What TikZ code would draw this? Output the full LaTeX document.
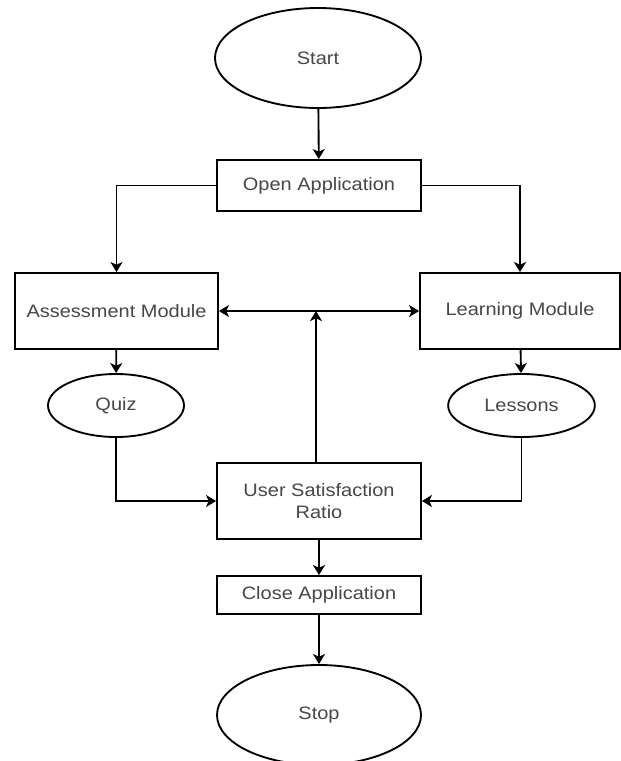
\documentclass[tikz,border=0pt]{standalone}
\usepackage{fontspec}
\setmainfont{Liberation Sans}[FakeStretch=1.11]
\usepackage{tikz}
\usetikzlibrary{arrows.meta,shapes.geometric,calc}

\tikzset{
  box/.style={draw, rectangle, line width=1.4pt, text=black!72, align=center,
    inner sep=0pt, font=\fontsize{13.5pt}{17pt}\selectfont},
  oval/.style={box, ellipse},
  flow/.style={line width=1.4pt, -{Stealth[width=9pt,length=7.5pt,inset=2pt]}}
}

\begin{document}
\begin{tikzpicture}[x=0.75pt,y=-0.75pt]
\fill[white] (0,0) rectangle (621,761);
\useasboundingbox (0,0) rectangle (621,761);
\node[oval, minimum width=154.5pt, minimum height=75pt] (start) at (318,58) {Start};
\node[box, minimum width=153pt, minimum height=38.25pt] (open) at (319,185.5) {Open Application};
\node[box, minimum width=152.25pt, minimum height=57pt] (assess) at (116.5,311) {Assessment Module};
\node[box, minimum width=150pt, minimum height=57pt] (learn) at (520,311) {Learning Module};
\node[oval, minimum width=102pt, minimum height=47.25pt] (quiz) at (116,405.5) {Quiz};
\node[oval, minimum width=110pt, minimum height=47.25pt] (lessons) at (521.5,405.5) {Lessons};
\node[box, minimum width=153pt, minimum height=57pt] (usr) at (319,501) {User Satisfaction\\Ratio};
\node[box, minimum width=153pt, minimum height=28.5pt] (close) at (319,595) {Close Application};
\node[oval, minimum width=153pt, minimum height=75pt] (stop) at (319,715) {Stop};

\draw[flow] (start) -- (open);
\draw[flow] (open.west) -| (assess.north);
\draw[flow] (open.east) -| (learn.north);
\draw[flow] (assess) -- (quiz);
\draw[flow] (learn) -- (lessons);
\draw[flow] (quiz.south) |- (usr.west);
\draw[flow] (lessons.south) |- (usr.east);
\draw[flow, {Stealth[width=9pt,length=7.5pt,inset=2pt]}-{Stealth[width=9pt,length=7.5pt,inset=2pt]}] (assess) -- (learn);
\draw[flow] ($(usr.north)+(-3,0)$) -- ($(usr.north |- assess)+(-3,0)$);
\draw[flow] (usr) -- (close);
\draw[flow] (close) -- (stop);
\end{tikzpicture}
\end{document}
